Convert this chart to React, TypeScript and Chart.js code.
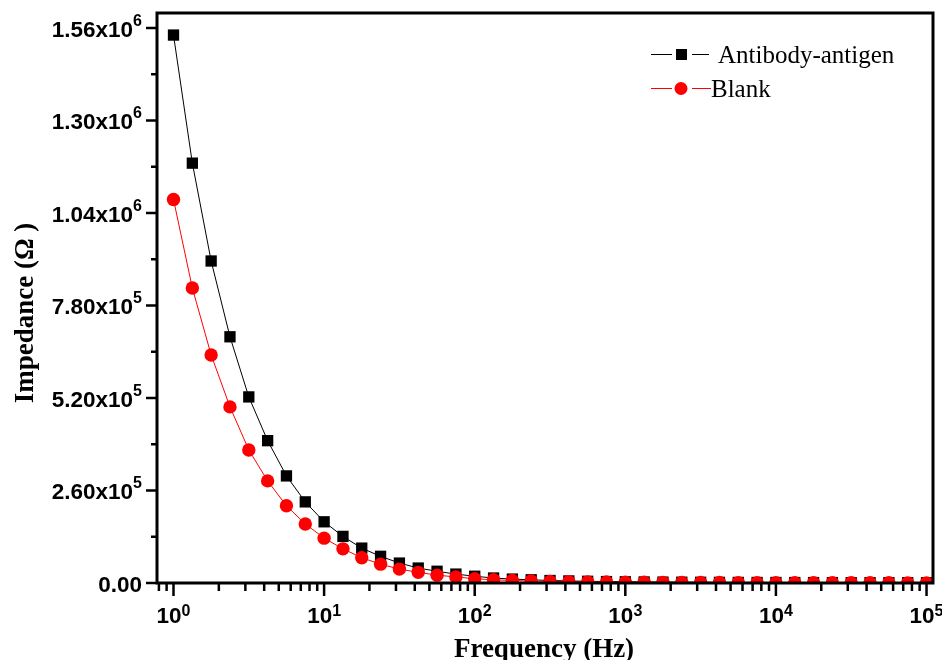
import React, { useEffect, useRef } from "react";
import { Chart, registerables } from "chart.js";

Chart.register(...registerables);

// Measurement frequencies (Hz), eight per decade
const frequencies = [
  1, 1.334, 1.778, 2.371, 3.162, 4.217, 5.623, 7.499,
  10, 13.34, 17.78, 23.71, 31.62, 42.17, 56.23, 74.99,
  100, 133.4, 177.8, 237.1, 316.2, 421.7, 562.3, 749.9,
  1000, 1334, 1778, 2371, 3162, 4217, 5623, 7499,
  10000, 13340, 17780, 23710, 31620, 42170, 56230, 74990,
  100000,
];

// Impedance magnitude (ohm)
const antibodyAntigen = [
  1540000, 1180000, 905000, 692000, 523000, 400000, 301000, 228000,
  172000, 131000, 98000, 75000, 56000, 42000, 33000, 25000,
  19000, 14000, 11000, 9000, 7000, 5800, 4800, 4000,
  3400, 2900, 2500, 2200, 2000, 1800, 1600, 1500,
  1400, 1300, 1200, 1100, 1000, 1000, 900, 900,
  800,
];

const blank = [
  1078000, 829000, 641000, 495000, 374000, 287000, 217000, 166000,
  126000, 96000, 71000, 53000, 39000, 30000, 22000, 17000,
  12000, 9000, 7000, 5500, 4500, 3800, 3200, 2700,
  2300, 2000, 1800, 1600, 1400, 1200, 1100, 1000,
  900, 800, 700, 600, 600, 500, 500, 400,
  400,
];

const seriesNames = ["Antibody-antigen", "Blank"];

// Axis ticks
const yTickValues = [0, 260000, 520000, 780000, 1040000, 1300000, 1560000];
const yTickMantissas = ["0.00", "2.60x10", "5.20x10", "7.80x10", "1.04x10", "1.30x10", "1.56x10"];
const yTickExponents = ["", "5", "5", "5", "6", "6", "6"];
const yMinorTicks = [130000, 390000, 650000, 910000, 1170000, 1430000];

const xTickValues = [1, 10, 100, 1000, 10000, 100000];
const xTickExponents = ["0", "1", "2", "3", "4", "5"];

const X_MIN = 0.777;
const X_MAX = 110400;
const Y_MIN = 0;
const Y_MAX = 1602000;

const SANS = '"Liberation Sans", Arial, sans-serif';
const SERIF = '"Liberation Serif", "Times New Roman", serif';

function xMinorTicks(): number[] {
  const out: number[] = [];
  for (let e = -1; e <= 5; e++) {
    for (let m = 2; m <= 9; m++) {
      const v = m * Math.pow(10, e);
      if (v >= X_MIN && v <= X_MAX) out.push(v);
    }
  }
  return out;
}

const frameAndLabels = {
  id: "frameAndLabels",
  afterDatasetsDraw(chart: any) {
    const { ctx, chartArea: a, scales } = chart;
    const xs = scales.x;
    const ys = scales.y;
    ctx.save();

    // frame
    ctx.strokeStyle = "#000";
    ctx.lineWidth = 3;
    ctx.strokeRect(a.left, a.top, a.right - a.left, a.bottom - a.top);

    // tick marks (outward)
    ctx.lineWidth = 2.5;
    ctx.beginPath();
    yTickValues.forEach((v) => {
      const y = ys.getPixelForValue(v);
      ctx.moveTo(a.left - 11, y);
      ctx.lineTo(a.left, y);
    });
    yMinorTicks.forEach((v) => {
      const y = ys.getPixelForValue(v);
      ctx.moveTo(a.left - 6, y);
      ctx.lineTo(a.left, y);
    });
    xTickValues.forEach((v) => {
      const x = xs.getPixelForValue(v);
      ctx.moveTo(x, a.bottom);
      ctx.lineTo(x, a.bottom + 13);
    });
    xMinorTicks().forEach((v) => {
      const x = xs.getPixelForValue(v);
      ctx.moveTo(x, a.bottom);
      ctx.lineTo(x, a.bottom + 8);
    });
    ctx.stroke();

    // y tick labels
    ctx.fillStyle = "#000";
    ctx.textBaseline = "alphabetic";
    ctx.textAlign = "left";
    const mainFont = `bold 22.5px ${SANS}`;
    const supFont = `bold 16px ${SANS}`;
    yTickValues.forEach((v, i) => {
      const y = ys.getPixelForValue(v);
      ctx.font = supFont;
      const sw = ctx.measureText(yTickExponents[i]).width;
      ctx.font = mainFont;
      const mw = ctx.measureText(yTickMantissas[i]).width;
      const right = a.left - 15;
      ctx.fillText(yTickMantissas[i], right - sw - mw, y + 9);
      if (yTickExponents[i]) {
        ctx.font = supFont;
        ctx.fillText(yTickExponents[i], right - sw, y - 2);
      }
    });

    // x tick labels
    xTickValues.forEach((v, i) => {
      const x = xs.getPixelForValue(v);
      ctx.font = supFont;
      const sw = ctx.measureText(xTickExponents[i]).width;
      ctx.font = mainFont;
      const mw = ctx.measureText("10").width;
      const left = x - (mw + sw) / 2;
      ctx.fillText("10", left, a.bottom + 40);
      ctx.font = supFont;
      ctx.fillText(xTickExponents[i], left + mw, a.bottom + 33);
    });

    // axis titles
    ctx.font = `bold 27px ${SERIF}`;
    ctx.textAlign = "center";
    ctx.fillText("Frequency (Hz)", 544, 657);
    ctx.save();
    ctx.translate(33, 313);
    ctx.rotate(-Math.PI / 2);
    ctx.fillText("Impedance (\u03A9 )", 0, 0);
    ctx.restore();

    // legend
    ctx.lineWidth = 1;
    ctx.textAlign = "left";
    ctx.font = `25px ${SERIF}`;
    // row 1
    ctx.strokeStyle = "#000";
    ctx.beginPath();
    ctx.moveTo(651, 54.5);
    ctx.lineTo(672, 54.5);
    ctx.moveTo(692, 54.5);
    ctx.lineTo(709, 54.5);
    ctx.stroke();
    ctx.fillStyle = "#000";
    ctx.fillRect(676, 49, 11, 11);
    ctx.fillText(seriesNames[0], 718, 63);
    // row 2
    ctx.strokeStyle = "#ff0000";
    ctx.beginPath();
    ctx.moveTo(651, 88.5);
    ctx.lineTo(672, 88.5);
    ctx.moveTo(692, 88.5);
    ctx.lineTo(711, 88.5);
    ctx.stroke();
    ctx.fillStyle = "#ff0000";
    ctx.beginPath();
    ctx.arc(681, 88.5, 6.5, 0, Math.PI * 2);
    ctx.fill();
    ctx.fillStyle = "#000";
    ctx.fillText(seriesNames[1], 711, 97);

    ctx.restore();
  },
};

export default function App() {
  const canvasRef = useRef<HTMLCanvasElement | null>(null);

  useEffect(() => {
    const canvas = canvasRef.current;
    if (!canvas) return;
    const chart = new Chart(canvas, {
      type: "line",
      data: {
        datasets: [
          {
            label: seriesNames[0],
            data: frequencies.map((f, i) => ({ x: f, y: antibodyAntigen[i] })),
            borderColor: "#000000",
            backgroundColor: "#000000",
            borderWidth: 1,
            pointStyle: "rect",
            pointRadius: 8,
            pointBorderWidth: 0,
            pointBackgroundColor: "#000000",
            tension: 0,
            clip: 0,
            order: 2,
          },
          {
            label: seriesNames[1],
            data: frequencies.map((f, i) => ({ x: f, y: blank[i] })),
            borderColor: "#ff0000",
            backgroundColor: "#ff0000",
            borderWidth: 1,
            pointStyle: "circle",
            pointRadius: 6.7,
            pointBorderWidth: 0,
            pointBackgroundColor: "#ff0000",
            tension: 0,
            clip: 0,
            order: 1,
          },
        ],
      },
      options: {
        responsive: false,
        animation: false,
        devicePixelRatio: 1,
        layout: { padding: { top: 13, right: 9, left: 0, bottom: 0 } },
        plugins: {
          legend: { display: false },
          tooltip: { enabled: false },
        },
        scales: {
          x: {
            type: "logarithmic",
            min: X_MIN,
            max: X_MAX,
            ticks: { display: false },
            grid: { display: false },
            border: { display: false },
            afterFit: (scale: any) => {
              scale.height = 77;
            },
          },
          y: {
            type: "linear",
            min: Y_MIN,
            max: Y_MAX,
            ticks: { display: false },
            grid: { display: false },
            border: { display: false },
            afterFit: (scale: any) => {
              scale.width = 157;
            },
          },
        },
      },
      plugins: [frameAndLabels],
    });
    return () => chart.destroy();
  }, []);

  return (
    <div style={{ position: "absolute", left: 0, top: 0, width: 942, height: 660, background: "#fff" }}>
      <canvas ref={canvasRef} width={942} height={660} style={{ display: "block" }} />
    </div>
  );
}
